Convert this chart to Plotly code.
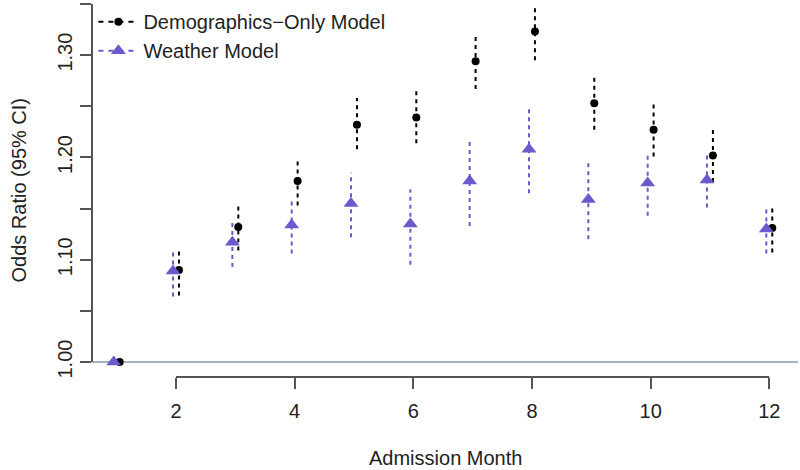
import plotly.graph_objects as go

# ---- data ----
months = [1, 2, 3, 4, 5, 6, 7, 8, 9, 10, 11, 12]

demo_or = [1.000, 1.090, 1.132, 1.177, 1.232, 1.239, 1.294, 1.323, 1.253, 1.227, 1.202, 1.131]
demo_lo = [1.000, 1.065, 1.109, 1.153, 1.208, 1.214, 1.267, 1.295, 1.227, 1.201, 1.176, 1.107]
demo_hi = [1.000, 1.110, 1.153, 1.197, 1.258, 1.265, 1.321, 1.349, 1.280, 1.253, 1.228, 1.151]

weather_or = [1.000, 1.089, 1.117, 1.134, 1.155, 1.135, 1.177, 1.208, 1.159, 1.175, 1.178, 1.130]
weather_lo = [1.000, 1.064, 1.093, 1.106, 1.122, 1.095, 1.133, 1.165, 1.120, 1.143, 1.151, 1.106]
weather_hi = [1.000, 1.109, 1.137, 1.160, 1.185, 1.169, 1.217, 1.248, 1.195, 1.205, 1.205, 1.151]

x_tick_vals = [2, 4, 6, 8, 10, 12]
x_tick_text = ["2", "4", "6", "8", "10", "12"]
y_tick_vals = [1.00, 1.05, 1.10, 1.15, 1.20, 1.25, 1.30, 1.35]
y_tick_text = ["1.00", "", "1.10", "", "1.20", "", "1.30", ""]

series_names = ["Demographics\u2212Only Model", "Weather Model"]
x_title = "Admission Month"
y_title = "Odds Ratio (95% CI)"
REF_VALUE = 1.0

# ---- style ----
OFFSET = 0.05
BLACK = "#000000"
BLUE = "#6A5ACD"
AXIS_COLOR = "#555555"
REF_COLOR = "#A7B4C6"
FONT = "Liberation Sans, Arial, sans-serif"
DASH = "4px,4px"


def points_separated(xs, ys):
    px, py = [], []
    for a, b in zip(xs, ys):
        px += [a, None]
        py += [b, None]
    return px, py


def segments(xs, lo, hi):
    sx, sy = [], []
    for a, l, h in zip(xs, lo, hi):
        sx += [a, a, None]
        sy += [l, h, None]
    return sx, sy


fig = go.Figure()

series = [
    (series_names[0], demo_or, demo_lo, demo_hi, BLACK, "circle", 8, +OFFSET),
    (series_names[1], weather_or, weather_lo, weather_hi, BLUE, "triangle-up", 13, -OFFSET),
]

for name, vals, lo, hi, color, symbol, msize, off in series:
    xs = [m + off for m in months]
    sx, sy = segments(xs, lo, hi)
    fig.add_trace(go.Scatter(
        x=sx, y=sy, mode="lines", showlegend=False, hoverinfo="skip",
        line=dict(color=color, width=2, dash=DASH), connectgaps=False,
    ))

for name, vals, lo, hi, color, symbol, msize, off in series:
    xs = [m + off for m in months]
    px, py = points_separated(xs, vals)
    fig.add_trace(go.Scatter(
        x=px, y=py, mode="lines+markers", name=name, connectgaps=False,
        line=dict(color=color, width=2, dash="5px,5px"),
        marker=dict(color=color, symbol=symbol, size=msize, line=dict(width=0)),
    ))

# reference line at 1.00
fig.add_shape(type="line", xref="paper", yref="y", x0=0, x1=1, y0=REF_VALUE, y1=REF_VALUE,
              line=dict(color=REF_COLOR, width=2), layer="below")
# axis lines (R style, spanning first to last tick)
fig.add_shape(type="line", xref="x", yref="paper", x0=x_tick_vals[0], x1=x_tick_vals[-1], y0=0, y1=0,
              line=dict(color=AXIS_COLOR, width=2))
fig.add_shape(type="line", xref="paper", yref="y", x0=0, x1=0, y0=y_tick_vals[0], y1=y_tick_vals[-1],
              line=dict(color=AXIS_COLOR, width=2))

fig.update_layout(
    width=800, height=470,
    margin=dict(l=92, r=2, t=2, b=93),
    paper_bgcolor="white", plot_bgcolor="white",
    font=dict(family=FONT, size=20, color="#222222"),
    showlegend=True,
    legend=dict(x=0.002, y=1.005, xanchor="left", yanchor="top", bgcolor="rgba(0,0,0,0)",
                font=dict(size=20, color="#222222"), itemwidth=40, tracegroupgap=0),
    xaxis=dict(range=[0.584, 12.484], showgrid=False, zeroline=False, showline=False,
               ticks="outside", ticklen=11, tickwidth=2, tickcolor=AXIS_COLOR,
               tickvals=x_tick_vals, ticktext=x_tick_text, ticklabelstandoff=5,
               tickfont=dict(size=20, color="#222222")),
    yaxis=dict(range=[0.9854, 1.35], showgrid=False, zeroline=False, showline=False,
               ticks="outside", ticklen=11, tickwidth=2, tickcolor=AXIS_COLOR,
               tickvals=y_tick_vals, ticktext=y_tick_text, tickangle=-90,
               tickfont=dict(size=20, color="#222222")),
    annotations=[
        dict(text=x_title, xref="paper", yref="paper", x=0.5, y=0, yshift=-81,
             xanchor="center", yanchor="middle", showarrow=False, font=dict(size=20)),
        dict(text=y_title, xref="paper", yref="paper", x=0, y=0.5, xshift=-74,
             xanchor="center", yanchor="middle", textangle=-90, showarrow=False, font=dict(size=20)),
    ],
)

fig.write_html("out.html", config={"displayModeBar": False},
               post_script="document.body.style.margin='0';")
